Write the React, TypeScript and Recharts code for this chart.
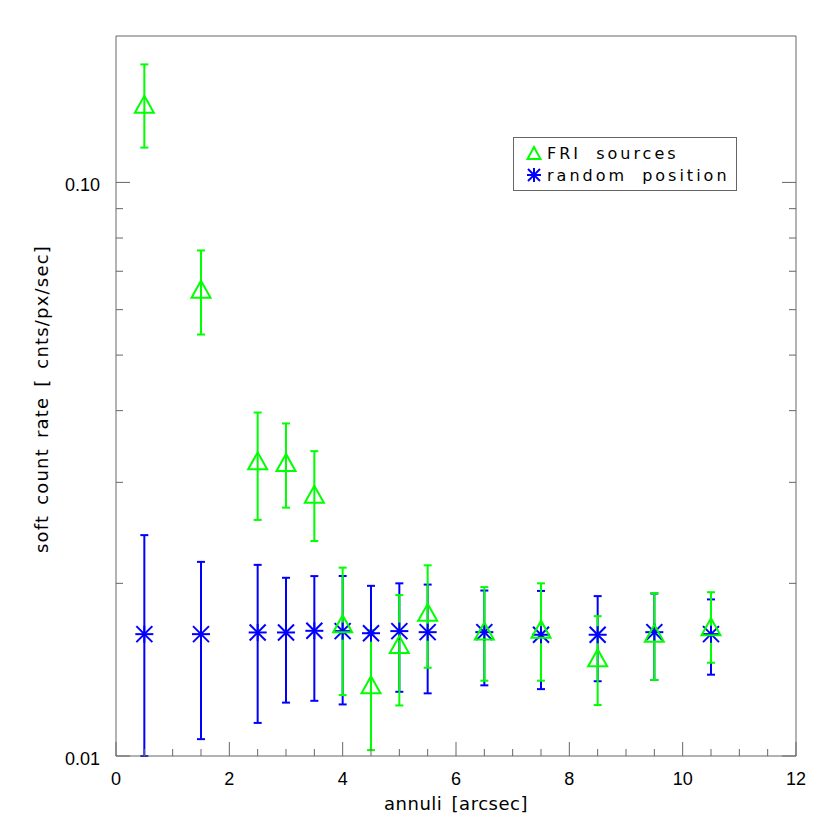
import React from 'react';
import { ScatterChart, Scatter, XAxis, YAxis, ErrorBar, Legend } from 'recharts';

document.body.style.margin = '0';

// annulus centres [arcsec]
const annuli = [0.5, 1.5, 2.5, 3.0, 3.5, 4.0, 4.5, 5.0, 5.5, 6.5, 7.5, 8.5, 9.5, 10.5];

// FRI sources: rate and error bar ends
const friRate = [0.1368, 0.0651, 0.0327, 0.0325, 0.0286, 0.017, 0.01331, 0.01565, 0.0178, 0.01651, 0.01664, 0.01483, 0.01637, 0.0168];
const friHigh = [0.1606, 0.0761, 0.0397, 0.038, 0.034, 0.0213, 0.01658, 0.01908, 0.0215, 0.0197, 0.02, 0.01753, 0.01923, 0.0193];
const friLow = [0.115, 0.0543, 0.0258, 0.0271, 0.0237, 0.01277, 0.01024, 0.01225, 0.01425, 0.01353, 0.01353, 0.01227, 0.01357, 0.01454];

// random positions
const randRate = [0.01631, 0.01631, 0.01642, 0.01642, 0.01653, 0.01651, 0.01637, 0.01651, 0.01644, 0.01644, 0.01627, 0.01627, 0.01644, 0.01631];
const randHigh = [0.02427, 0.0218, 0.02154, 0.02045, 0.02059, 0.0206, 0.0198, 0.02, 0.0199, 0.01943, 0.0194, 0.019, 0.0192, 0.01875];
const randLow = [0.01, 0.0107, 0.01142, 0.01239, 0.01248, 0.0123, 0.01637, 0.01294, 0.01286, 0.01328, 0.01308, 0.0135, 0.01357, 0.01386];

const xTicks = [0, 0.5, 1, 1.5, 2, 2.5, 3, 3.5, 4, 4.5, 5, 5.5, 6, 6.5, 7, 7.5, 8, 8.5, 9, 9.5, 10, 10.5, 11, 11.5, 12];
const yTicks = [0.01, 0.02, 0.03, 0.04, 0.05, 0.06, 0.07, 0.08, 0.09, 0.1];
const yLabels: Record<string, string> = { '0.01': '0.01', '0.1': '0.10' };

const GREEN = '#00ff00';
const BLUE = '#0000ff';
const FRAME = '#666';
const WORD_FONT = '"DejaVu Sans", sans-serif';
const NUM_FONT = '"Liberation Sans", Arial, sans-serif';

const friRows = annuli.map((x, i) => ({ x, y: friRate[i], err: [friRate[i] - friLow[i], friHigh[i] - friRate[i]] }));
const randRows = annuli.map((x, i) => ({ x, y: randRate[i], err: [randRate[i] - randLow[i], randHigh[i] - randRate[i]] }));

const renderTick = (side: string) => (props: any) => {
  const { x, y, payload } = props;
  const v = payload.value;
  if (side === 'bottom' || side === 'top') {
    const len = v % 2 === 0 ? 14 : 7;
    const dir = side === 'bottom' ? -1 : 1;
    return (
      <g>
        <line x1={x} y1={y} x2={x} y2={y + dir * len} stroke={FRAME} />
        {side === 'bottom' && v % 2 === 0 && (
          <text x={x} y={y + 29} textAnchor="middle" fontFamily={NUM_FONT} fontSize={18} fill="#000">
            {v}
          </text>
        )}
      </g>
    );
  }
  const key = String(v);
  const major = key in yLabels;
  const len = major ? 14 : 7;
  const dir = side === 'left' ? 1 : -1;
  return (
    <g>
      <line x1={x} y1={y} x2={x + dir * len} y2={y} stroke={FRAME} />
      {side === 'left' && major && (
        <text x={x - 16} y={y + 9} textAnchor="end" fontFamily={NUM_FONT} fontSize={18} fill="#000">
          {yLabels[key]}
        </text>
      )}
    </g>
  );
};

const Triangle = (props: any) => {
  const { cx, cy } = props;
  return (
    <polygon
      points={`${cx},${cy - 8.5} ${cx - 9.5},${cy + 8.5} ${cx + 9.5},${cy + 8.5}`}
      fill="none"
      stroke={GREEN}
      strokeWidth={2}
    />
  );
};

const Asterisk = (props: any) => {
  const { cx, cy } = props;
  return (
    <g stroke={BLUE} strokeWidth={2}>
      <line x1={cx - 9} y1={cy} x2={cx + 9} y2={cy} />
      <line x1={cx} y1={cy - 8.5} x2={cx} y2={cy + 8.5} />
      <line x1={cx - 8} y1={cy - 8} x2={cx + 8} y2={cy + 8} />
      <line x1={cx - 8} y1={cy + 8} x2={cx + 8} y2={cy - 8} />
    </g>
  );
};

const renderLegend = () => (
  <div
    style={{
      width: 224,
      height: 54,
      boxSizing: 'border-box',
      border: `1px solid ${FRAME}`,
      background: '#fff',
      padding: '4px 0 0 12px',
      fontFamily: WORD_FONT,
      fontSize: 16,
      letterSpacing: 3,
      wordSpacing: 7,
      color: '#000',
    }}
  >
    <div style={{ display: 'flex', alignItems: 'center', height: 22 }}>
      <svg width={16} height={16}>
        <polygon points="8,2 1.5,14 14.5,14" fill="none" stroke={GREEN} strokeWidth={2} />
      </svg>
      <span style={{ marginLeft: 5 }}>FRI sources</span>
    </div>
    <div style={{ display: 'flex', alignItems: 'center', height: 22 }}>
      <svg width={16} height={16}>
        <g stroke={BLUE} strokeWidth={2}>
          <line x1={1} y1={8} x2={15} y2={8} />
          <line x1={8} y1={1} x2={8} y2={15} />
          <line x1={2} y1={2} x2={14} y2={14} />
          <line x1={2} y1={14} x2={14} y2={2} />
        </g>
      </svg>
      <span style={{ marginLeft: 5 }}>random position</span>
    </div>
  </div>
);

export default function App() {
  return (
    <ScatterChart width={830} height={830} margin={{ top: 26, right: 24, bottom: 14, left: 56 }}>
      <XAxis
        type="number"
        dataKey="x"
        domain={[0, 12]}
        ticks={xTicks}
        interval={0}
        allowDataOverflow
        height={60}
        tickSize={0}
        tickMargin={0}
        tickLine={false}
        axisLine={{ stroke: FRAME }}
        tick={renderTick('bottom')}
        label={(p: any) => (
          <text
            x={p.viewBox.x + p.viewBox.width / 2}
            y={p.viewBox.y + 54}
            textAnchor="middle"
            fontFamily={WORD_FONT}
            fontSize={18}
            letterSpacing={0.5}
            wordSpacing={3}
            fill="#000"
          >
            annuli [arcsec]
          </text>
        )}
      />
      <XAxis
        xAxisId="top"
        orientation="top"
        type="number"
        domain={[0, 12]}
        ticks={xTicks}
        interval={0}
        allowDataOverflow
        height={10}
        tickSize={0}
        tickMargin={0}
        tickLine={false}
        axisLine={{ stroke: FRAME }}
        tick={renderTick('top')}
      />
      <YAxis
        type="number"
        dataKey="y"
        scale="log"
        domain={[0.01, 0.18]}
        ticks={yTicks}
        interval={0}
        allowDataOverflow
        width={60}
        tickSize={0}
        tickMargin={0}
        tickLine={false}
        axisLine={{ stroke: FRAME }}
        tick={renderTick('left')}
        label={(p: any) => {
          const cx = p.viewBox.x - 15;
          const cy = p.viewBox.y + p.viewBox.height / 2 + 3;
          return (
            <text
              x={cx}
              y={cy}
              transform={`rotate(-90 ${cx} ${cy})`}
              textAnchor="middle"
              dominantBaseline="central"
              fontFamily={WORD_FONT}
              fontSize={18}
              letterSpacing={1.2}
              wordSpacing={3}
              fill="#000"
            >
              soft count rate [ cnts/px/sec]
            </text>
          );
        }}
      />
      <YAxis
        yAxisId="right"
        orientation="right"
        type="number"
        scale="log"
        domain={[0.01, 0.18]}
        ticks={yTicks}
        interval={0}
        allowDataOverflow
        width={10}
        tickSize={0}
        tickMargin={0}
        tickLine={false}
        axisLine={{ stroke: FRAME }}
        tick={renderTick('right')}
      />
      <Scatter name="random position" data={randRows} shape={<Asterisk />} isAnimationActive={false}>
        <ErrorBar dataKey="err" direction="y" width={4} stroke={BLUE} strokeWidth={2} isAnimationActive={false} />
      </Scatter>
      <Scatter name="FRI sources" data={friRows} shape={<Triangle />} isAnimationActive={false}>
        <ErrorBar dataKey="err" direction="y" width={4} stroke={GREEN} strokeWidth={2} isAnimationActive={false} />
      </Scatter>
      <Legend
        layout="vertical"
        align="center"
        verticalAlign="middle"
        content={renderLegend}
        wrapperStyle={{ left: 513, top: 137, width: 224, height: 54 }}
      />
    </ScatterChart>
  );
}
